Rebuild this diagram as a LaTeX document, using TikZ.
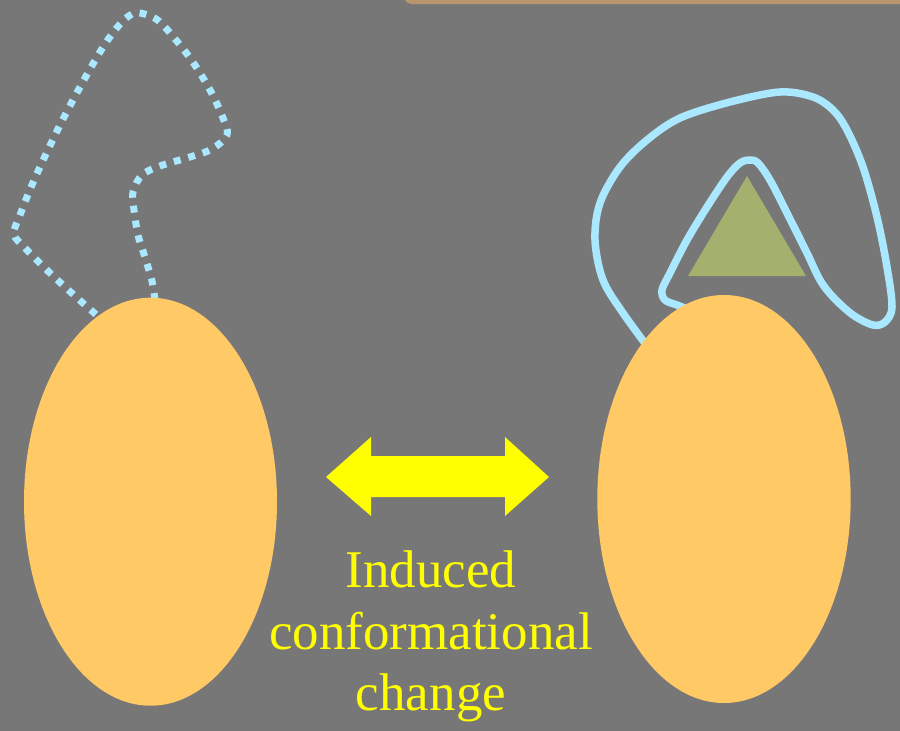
\documentclass[tikz,border=0pt]{standalone}
\usepackage{fontspec}
\setmainfont{Liberation Serif}
\definecolor{bg}{RGB}{119,119,119}
\definecolor{barbrown}{RGB}{185,150,110}
\definecolor{blob}{RGB}{255,201,102}
\definecolor{loopblue}{RGB}{170,232,255}
\definecolor{ligand}{RGB}{163,176,110}
\definecolor{txtyellow}{RGB}{255,255,0}
\tikzset{
  dotloop/.style={draw=loopblue, line width=7pt, dash pattern=on 7pt off 8pt},
  solidloop/.style={draw=loopblue, line width=7.5pt, line cap=round, line join=round},
  blobfill/.style={fill=blob},
  captext/.style={text=txtyellow, font=\fontsize{53}{60}\selectfont, anchor=base, inner sep=0pt}
}
\begin{document}
\begin{tikzpicture}[x=1pt,y=-1pt]
\useasboundingbox (0,0) rectangle (900,731);
\fill[bg] (0,0) rectangle (900,731);
\begin{scope}
  \clip (0,0) rectangle (900,731);
  \fill[barbrown, rounded corners=8pt] (404,-20) rectangle (930,4);
\end{scope}
% left: dotted flexible loop
\draw[dotloop] plot[smooth, tension=0.55] coordinates {
  (155,300) (152,281) (148,267) (143,251) (138,235) (134,210) (133,192)
  (142,175) (160,166) (190,157) (212,149) (227,135) (223,118) (210,90)
  (190,58) (163,25) (150,16) (135,13) (122,22) (105,44) (85,78) (60,125)
  (35,178) (20,215) (14,234) (25,248) (50,273) (75,296) (100,318)};
% right: solid loop wrapping ligand
\draw[solidloop] plot[smooth, tension=0.55] coordinates {
  (650,350) (623,313) (603,280) (595,240) (600,203) (620,167) (647,140)
  (680,118) (730,102) (780,92) (813,97) (833,110) (847,130) (863,167)
  (877,217) (887,267) (892,307) (885,322) (873,325) (853,315) (833,297)
  (820,280) (807,253) (787,213) (770,180) (758,163) (750,160) (740,163)
  (727,177) (707,207) (687,240) (670,273) (662,290) (665,300) (677,305) (690,310)};
% protein domains
\fill[blobfill] (150.5,501.7) ellipse [x radius=126.5, y radius=204];
\node[coordinate] (left) at (150.5,501.7) {};
\fill[blobfill] (724,499) ellipse [x radius=126.7, y radius=204];
\node[coordinate] (right) at (724,499) {};
% ligand
\fill[ligand] (747,176) -- (806,276) -- (688,276) -- cycle;
% double arrow
\fill[txtyellow] (326,477) -- (371,437) -- (371,456) -- (505,456) -- (505,437)
  -- (549,477) -- (505,516) -- (505,497) -- (371,497) -- (371,516) -- cycle;
% caption
\node[captext] (l1) at (431,587) {Induced};
\node[captext] (l2) at (431,649) {conformational};
\node[captext] (l3) at (431,710) {change};
\end{tikzpicture}
\end{document}
